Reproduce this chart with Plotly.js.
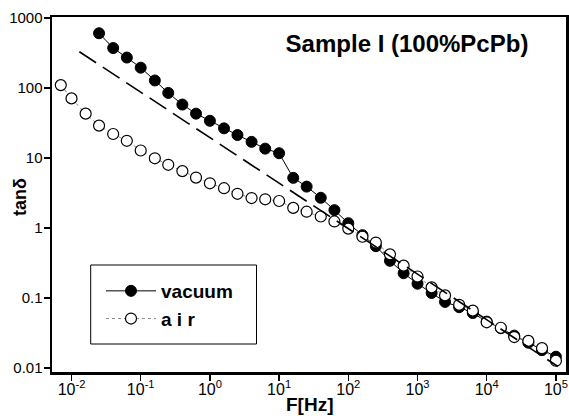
<!DOCTYPE html>
<html>
<head>
<meta charset="utf-8">
<script src="https://cdn.plot.ly/plotly-3.0.1.min.js"></script>
<style>html,body{margin:0;padding:0;background:#fff;}#chart{width:569px;height:416px;}</style>
</head>
<body>
<div id="chart"></div>
<script>
// ---- data ----
const vacuumFreq = [0.025, 0.04, 0.063, 0.1, 0.16, 0.25, 0.4, 0.63, 1, 1.6, 2.5, 4, 6.3, 10, 16, 25, 40, 63, 100, 160, 250, 400, 630, 1000, 1600, 2500, 4000, 6300, 10000, 16000, 25000, 40000, 63000, 100000];
const vacuumTan  = [605, 372, 272, 195, 128, 85, 58, 43, 34, 26.5, 21.3, 17, 13.6, 11.7, 5.2, 3.9, 2.7, 1.8, 1.17, 0.79, 0.55, 0.34, 0.226, 0.16, 0.118, 0.088, 0.074, 0.061, 0.046, 0.037, 0.029, 0.023, 0.018, 0.0145];

const airFreq = [0.007, 0.01, 0.016, 0.025, 0.04, 0.063, 0.1, 0.16, 0.25, 0.4, 0.63, 1, 1.6, 2.5, 4, 6.3, 10, 16, 25, 40, 63, 100, 160, 250, 400, 630, 1000, 1600, 2500, 4000, 6300, 10000, 16000, 25000, 40000, 63000, 100000];
const airTan  = [110, 71, 43, 29, 22, 17.6, 12.8, 9.9, 8.0, 6.5, 5.25, 4.35, 3.7, 3.08, 2.68, 2.57, 2.43, 1.94, 1.71, 1.46, 1.24, 0.98, 0.75, 0.62, 0.42, 0.29, 0.203, 0.142, 0.109, 0.080, 0.066, 0.045, 0.0376, 0.0277, 0.0244, 0.0192, 0.0127];

const fitFreq = [0.013, 107000];
const fitTan  = [329, 0.0105];

const xTickVals = [0.01, 0.1, 1, 10, 100, 1000, 10000, 100000];
const xTickText = ['10<sup>-2</sup>', '10<sup>-1</sup>', '10<sup>0</sup>', '10<sup>1</sup>', '10<sup>2</sup>', '10<sup>3</sup>', '10<sup>4</sup>', '10<sup>5</sup>'];
const yTickVals = [0.01, 0.1, 1, 10, 100, 1000];
const yTickText = ['0.01', '0.1', '1', '10', '100', '1000'];

const seriesNames = ['vacuum', 'a i r'];
const titleText = 'Sample I (100%PcPb)';
const xTitle = 'F[Hz]';
const yTitle = 'tanδ';

const FONT = 'Liberation Sans, Arial, Helvetica, sans-serif';

// plot area in pixels: x 52..566, y 17..372
const PX = {l: 52, r: 566, t: 17, b: 372};
const px2x = v => (v - PX.l) / (PX.r - PX.l);
const px2y = v => (PX.b - v) / (PX.b - PX.t);

const traces = [
  {
    x: vacuumFreq, y: vacuumTan, type: 'scatter', mode: 'lines+markers', name: seriesNames[0],
    line: {color: '#000', width: 1},
    marker: {symbol: 'circle', size: 11, color: '#000', line: {color: '#000', width: 1}},
    legendgroup: 'a'
  },
  {
    x: airFreq, y: airTan, type: 'scatter', mode: 'lines+markers', name: seriesNames[1],
    line: {color: '#888', width: 1, dash: 'dot'},
    marker: {symbol: 'circle', size: 11, color: '#fff', line: {color: '#000', width: 1.2}},
    legendgroup: 'b'
  },
  {
    x: fitFreq, y: fitTan, type: 'scatter', mode: 'lines', showlegend: false,
    line: {color: '#000', width: 1.6, dash: '20px,8px'}
  }
];

const axisCommon = {
  type: 'log', showgrid: false, zeroline: false,
  showline: true, linecolor: '#000', linewidth: 2.5, mirror: true,
  ticks: 'outside', ticklen: 6, tickwidth: 1.5, tickcolor: '#000',
  tickmode: 'array'
};

const layout = {
  width: 569, height: 416,
  margin: {l: PX.l, r: 569 - PX.r, t: PX.t, b: 416 - PX.b},
  paper_bgcolor: '#fff', plot_bgcolor: '#fff',
  font: {family: FONT, color: '#000'},
  showlegend: true,
  title: {
    text: '<b>' + titleText + '</b>',
    font: {family: FONT, size: 24, color: '#000'},
    xref: 'container', x: 407 / 569, xanchor: 'center',
    yref: 'container', y: 1 - 44 / 416, yanchor: 'middle'
  },
  xaxis: Object.assign({}, axisCommon, {
    range: [-2.282, 5.146], tickvals: xTickVals, ticktext: xTickText,
    tickfont: {family: FONT, size: 16, color: '#000'}, ticklabelstandoff: -5
  }),
  yaxis: Object.assign({}, axisCommon, {
    range: [-2.057, 3.014], tickvals: yTickVals, ticktext: yTickText,
    tickfont: {family: FONT, size: 15, color: '#000'}, ticklabelstandoff: -2
  }),
  legend: {
    x: px2x(101), y: px2y(272), xanchor: 'left', yanchor: 'top',
    bgcolor: 'rgba(0,0,0,0)', borderwidth: 0,
    font: {family: FONT, size: 19, color: '#000', weight: 'bold'},
    tracegroupgap: 0, itemwidth: 50
  },
  shapes: [
    {type: 'rect', xref: 'paper', yref: 'paper', layer: 'above',
     x0: px2x(90.7), x1: px2x(256.5), y0: px2y(344), y1: px2y(265),
     line: {color: '#000', width: 1}, fillcolor: '#fff'}
  ],
  annotations: [
    {text: '<b>' + xTitle + '</b>', xref: 'paper', yref: 'paper', x: 0.5, y: px2y(404),
     xanchor: 'center', yanchor: 'middle', showarrow: false, font: {family: FONT, size: 19, color: '#000'}},
    {text: '<b>' + yTitle + '</b>', xref: 'paper', yref: 'paper', x: px2x(20), y: px2y(197),
     xanchor: 'center', yanchor: 'middle', textangle: -90, showarrow: false, font: {family: FONT, size: 18, color: '#000'}}
  ]
};

Plotly.newPlot('chart', traces, layout, {displayModeBar: false, staticPlot: true});
</script>
</body>
</html>
